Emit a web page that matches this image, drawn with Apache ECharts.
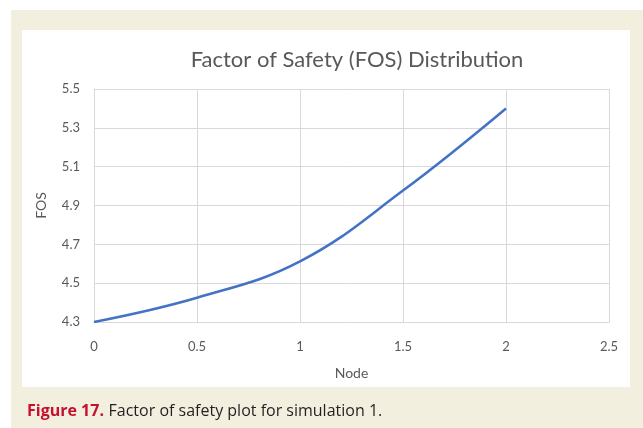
<!DOCTYPE html>
<html>
<head>
<meta charset="utf-8">
<script src="https://cdn.jsdelivr.net/npm/echarts@6/dist/echarts.min.js"></script>
<style>
  html, body { margin: 0; padding: 0; background: #fff; }
  #main { width: 643px; height: 428px; }
</style>
</head>
<body>
<div id="main"></div>
<script>
// data
var nodes = [0, 0.5, 1, 1.5, 2];
var fos = [4.3, 4.425, 4.612, 4.977, 5.4];
var xTicks = [0, 2.5, 0.5];   // min, max, step
var yTicks = [4.3, 5.5, 0.2];

var chart = echarts.init(document.getElementById('main'));

var points = [];
for (var i = 0; i < nodes.length; i++) {
  points.push([nodes[i], fos[i]]);
}

var option = {
  backgroundColor: '#fff',
  animation: false,
  textStyle: { fontFamily: 'Lato' },
  graphic: [
    { type: 'rect', z: -10, shape: { x: 11, y: 10, width: 632, height: 418 }, style: { fill: '#f2efdf' } },
    { type: 'rect', z: -9, shape: { x: 22, y: 30, width: 608, height: 357 }, style: { fill: '#fff' } }
  ],
  title: [
    {
      text: 'Factor of Safety (FOS) Distribution',
      left: 352,
      top: 44,
      textAlign: 'center',
      textStyle: { fontFamily: 'Lato', fontSize: 22, fontWeight: 'normal', color: '#595959' }
    },
    {
      text: '{a|Figure 17.} {b|Factor of safety plot for simulation 1.}',
      left: 22,
      top: 397,
      textStyle: {
        fontWeight: 'normal',
        rich: {
          a: { fontFamily: 'Open Sans', fontSize: 16, fontWeight: 'bold', color: '#c8102e' },
          b: { fontFamily: 'Open Sans', fontSize: 16, fontWeight: 'normal', color: '#231f20' }
        }
      }
    }
  ],
  grid: { left: 94, right: 34, top: 89, bottom: 106 },
  xAxis: {
    type: 'value',
    min: xTicks[0],
    max: xTicks[1],
    interval: xTicks[2],
    name: 'Node',
    nameLocation: 'middle',
    nameGap: 44,
    nameTextStyle: { color: '#595959', fontSize: 14, fontFamily: 'Lato' },
    axisLine: { show: true, lineStyle: { color: '#d9d9d9' } },
    axisTick: { show: false },
    axisLabel: { color: '#595959', fontSize: 13, margin: 18 },
    splitLine: { show: true, lineStyle: { color: '#d9d9d9' } }
  },
  yAxis: {
    type: 'value',
    min: yTicks[0],
    max: yTicks[1],
    interval: yTicks[2],
    name: 'FOS',
    nameLocation: 'middle',
    nameGap: 46,
    nameTextStyle: { color: '#595959', fontSize: 14, fontFamily: 'Lato' },
    axisLine: { show: true, lineStyle: { color: '#d9d9d9' } },
    axisTick: { show: false },
    axisLabel: {
      color: '#595959', fontSize: 13, margin: 14,
      formatter: function (v) { return v.toFixed(1); }
    },
    splitLine: { show: true, lineStyle: { color: '#d9d9d9' } }
  },
  series: [{
    type: 'line',
    data: points,
    smooth: 0.4,
    showSymbol: false,
    lineStyle: { color: '#4472c4', width: 2.5 }
  }]
};

chart.setOption(option);
</script>
</body>
</html>
